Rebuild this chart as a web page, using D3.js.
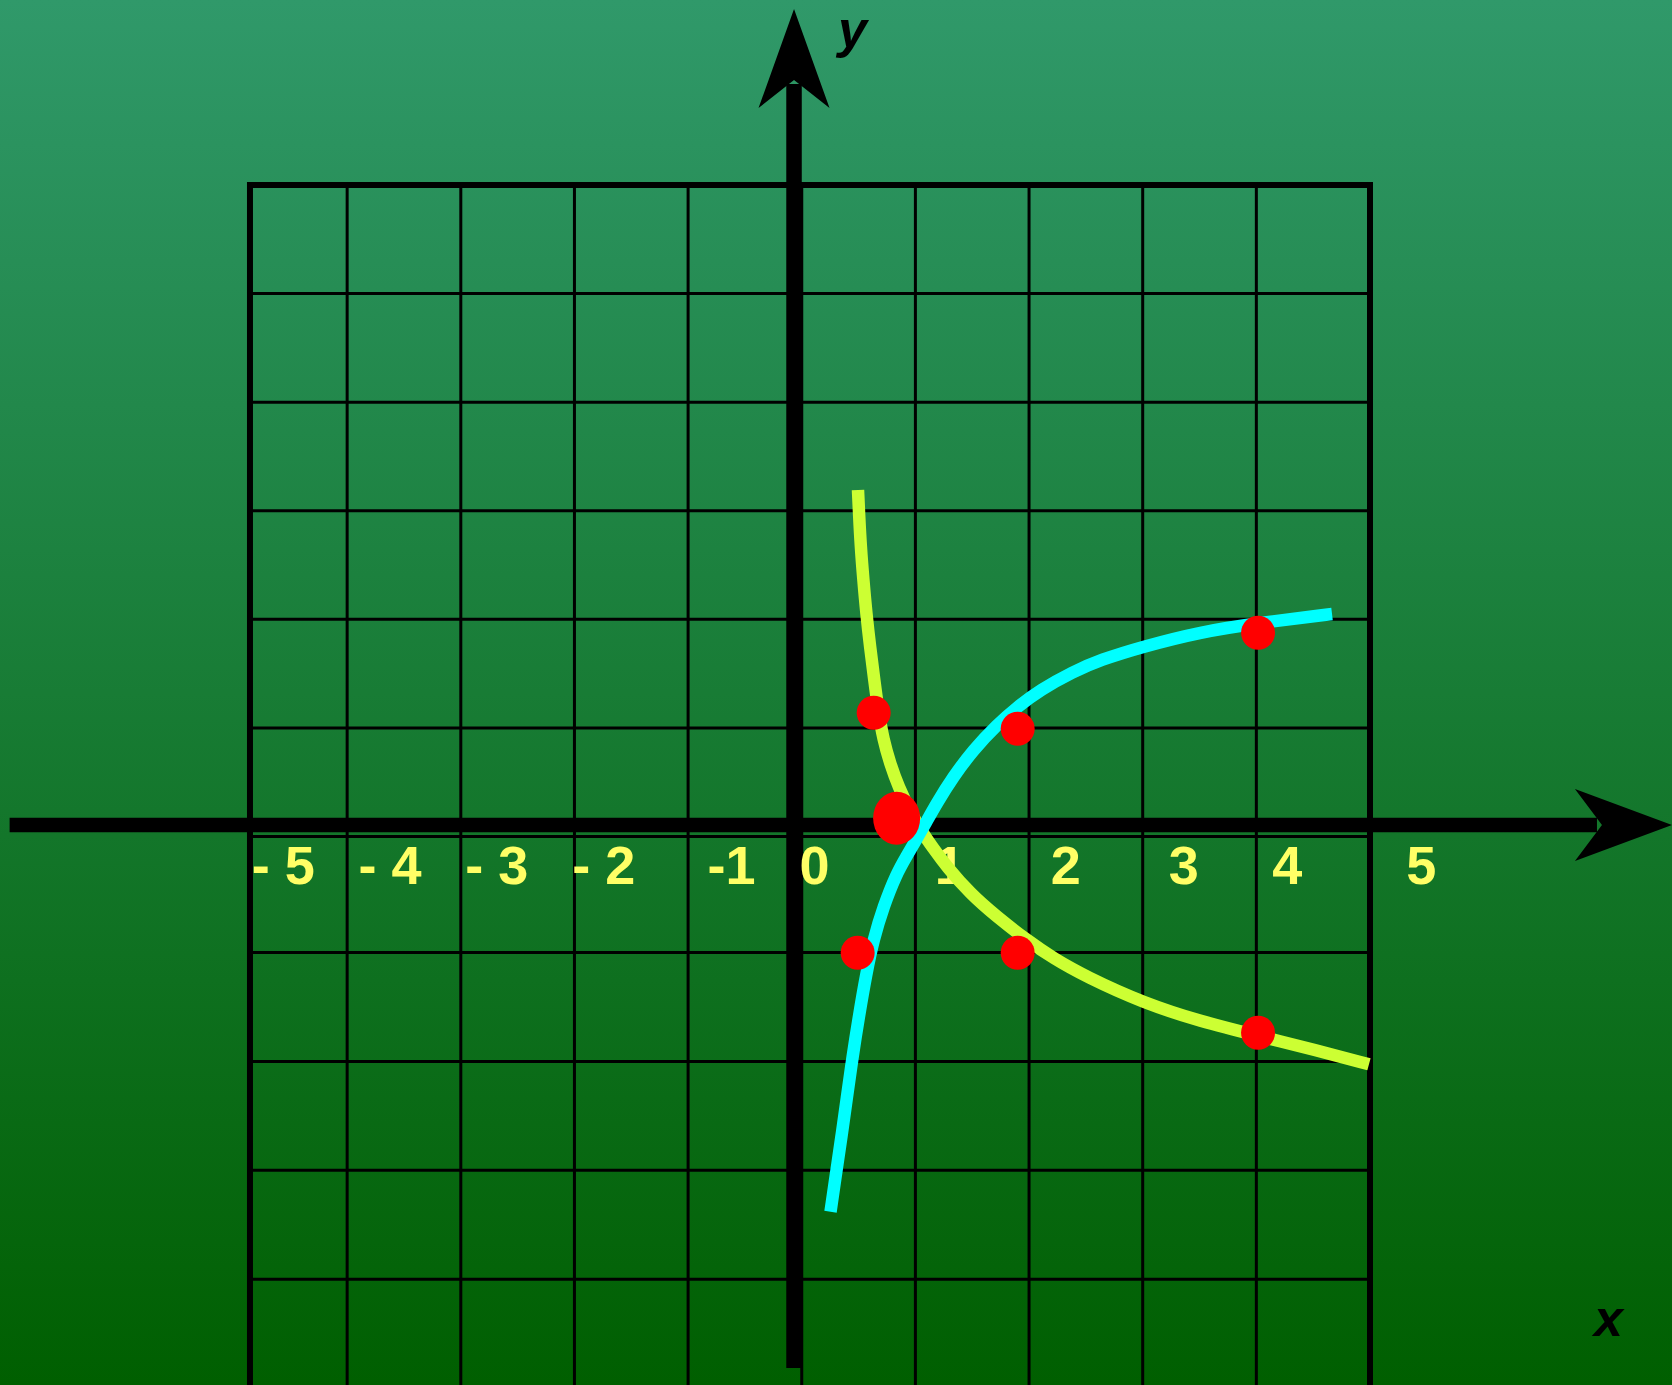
<!DOCTYPE html>
<html>
<head>
<meta charset="utf-8">
<script src="https://cdn.jsdelivr.net/npm/d3@7"></script>
<style>
    html, body { margin: 0; padding: 0; overflow: hidden; background: #1a7a30; }
    #chart { width: 1672px; height: 1385px; }
    #chart text { font-family: Arial, 'Liberation Sans', sans-serif; font-weight: bold; }
</style>
</head>
<body>
<div id="chart"></div>
<script>
//Colores fijos
const COLOR_BG_TOP = '#30996a',
COLOR_BG_BOTTOM = '#005f00',
COLOR_GRID = '#000',
COLOR_LABEL = '#ffff66',
COLOR_LOG2 = '#00ffff',
COLOR_LOG_HALF = '#ccff33',
COLOR_DOT = '#ff0000';

//Cuadrícula (unidades del gráfico)
const gridX = [-4, -3, -2, -1, 0, 1, 2, 3, 4];
const gridY = [-4, -3, -2, -1, 0, 1, 2, 3, 4, 5];
const frameLeft = -4.855, frameRight = 5, frameTop = 6, frameBottom = -5.2;

//Ejes (donde se cruzan y hasta donde llegan)
const axisAtX = -0.068, axisAtY = 0.106;
const xAxisFrom = -6.97, xAxisTo = 7.657;
const yAxisFrom = -4.816, yAxisTo = 7.62;

//Etiquetas del eje x
const tickLabels = ['- 5', '- 4', '- 3', '- 2', '-1', '0', '1', '2', '3', '4', '5'];
const tickLabelX = [-4.84, -3.90, -2.96, -2.02, -0.83, -0.02, 1.17, 2.19, 3.23, 4.14, 5.32];
const tickLabelY = -0.41;

//Curva y = log2(x), tal como está dibujada
const log2X = [0.253, 0.319, 0.354, 0.394, 0.447, 0.502, 0.568, 0.630, 0.718, 0.835, 0.920, 1.005, 1.081, 1.187, 1.333, 1.509, 1.715, 1.900, 2.096, 2.389, 2.624, 2.997, 3.513, 4.015, 4.666];
const log2Y = [-3.381, -2.906, -2.658, -2.355, -1.957, -1.590, -1.191, -0.892, -0.605, -0.317, -0.174, -0.030, 0.106, 0.306, 0.551, 0.797, 1.027, 1.195, 1.349, 1.518, 1.626, 1.748, 1.886, 1.966, 2.049];

//Curva y = log1/2(x)
const logHalfX = [0.495, 0.504, 0.519, 0.542, 0.568, 0.601, 0.638, 0.675, 0.718, 0.777, 0.850, 0.957, 1.058, 1.155, 1.275, 1.480, 1.715, 1.979, 2.213, 2.501, 3.008, 3.513, 4.001, 4.523, 4.991];
const logHalfY = [3.191, 2.977, 2.669, 2.362, 2.056, 1.748, 1.441, 1.147, 0.889, 0.674, 0.459, 0.226, 0.041, -0.099, -0.260, -0.490, -0.691, -0.892, -1.053, -1.222, -1.464, -1.634, -1.762, -1.896, -2.027];

//Puntos marcados
const dotX = [0.633, 1.900, 4.015, 0.492, 1.900, 4.015];
const dotY = [1.140, 0.993, 1.877, -1.002, -1.002, -1.737];
const commonDot = [0.835, 0.168];

const axisNameX = ['x', 6.97, -4.52];
const axisNameY = ['y', 0.32, 7.27];

initChart();

function initChart() {
    let width = 1672, height = 1385;

    let svg = d3.select('#chart')
        .append('svg')
            .attr('width', width)
            .attr('height', height);

    //Fondo degradado
    let grad = svg.append('defs').append('linearGradient')
        .attr('id', 'bg')
        .attr('x1', 0).attr('y1', 0).attr('x2', 0).attr('y2', 1);
    grad.append('stop').attr('offset', '0%').attr('stop-color', COLOR_BG_TOP);
    grad.append('stop').attr('offset', '100%').attr('stop-color', COLOR_BG_BOTTOM);

    svg.append('rect')
        .attr('width', width)
        .attr('height', height)
        .attr('fill', 'url(#bg)');

    //Escalas
    let x = d3.scaleLinear()
        .domain([-5, 5])
        .range([233.5, 1370]);

    let y = d3.scaleLinear()
        .domain([-5, -1, 0, 6])
        .range([1388, 952.5, 836.5, 185]);

    //Cuadrícula
    let grid = svg.append('g').attr('class', 'grid');

    grid.selectAll('.v-line')
        .data(gridX)
        .enter()
        .append('line')
        .attr('x1', function(d) { return x(d); })
        .attr('x2', function(d) { return x(d); })
        .attr('y1', y(frameTop))
        .attr('y2', y(frameBottom))
        .attr('stroke', COLOR_GRID)
        .attr('stroke-width', 3);

    grid.selectAll('.h-line')
        .data(gridY)
        .enter()
        .append('line')
        .attr('x1', x(frameLeft))
        .attr('x2', x(frameRight))
        .attr('y1', function(d) { return y(d); })
        .attr('y2', function(d) { return y(d); })
        .attr('stroke', COLOR_GRID)
        .attr('stroke-width', 3);

    //Marco
    grid.append('path')
        .attr('d', 'M' + x(frameLeft) + ',' + y(frameBottom) +
            'V' + y(frameTop) + 'H' + x(frameRight) + 'V' + y(frameBottom))
        .attr('fill', 'none')
        .attr('stroke', COLOR_GRID)
        .attr('stroke-width', 6);

    //Ejes con flecha
    let axes = svg.append('g').attr('class', 'axes');
    let x0 = x(axisAtX), y0 = y(axisAtY);
    let xTip = x(xAxisTo), yTip = y(yAxisTo);

    axes.append('line')
        .attr('x1', x(xAxisFrom)).attr('x2', xTip - 75)
        .attr('y1', y0).attr('y2', y0)
        .attr('stroke', '#000')
        .attr('stroke-width', 14.5);

    axes.append('path')
        .attr('d', 'M' + xTip + ',' + y0 + 'L' + (xTip - 97) + ',' + (y0 - 36) +
            'L' + (xTip - 70) + ',' + y0 + 'L' + (xTip - 97) + ',' + (y0 + 36) + 'Z')
        .attr('fill', '#000');

    axes.append('line')
        .attr('x1', x0).attr('x2', x0)
        .attr('y1', y(yAxisFrom)).attr('y2', yTip + 75)
        .attr('stroke', '#000')
        .attr('stroke-width', 15.5);

    axes.append('path')
        .attr('d', 'M' + x0 + ',' + yTip + 'L' + (x0 - 35.5) + ',' + (yTip + 99) +
            'L' + x0 + ',' + (yTip + 71) + 'L' + (x0 + 35.5) + ',' + (yTip + 99) + 'Z')
        .attr('fill', '#000');

    //Nombres de los ejes
    axes.selectAll('.axis-name')
        .data([axisNameX, axisNameY])
        .enter()
        .append('text')
        .attr('x', function(d) { return x(d[1]); })
        .attr('y', function(d) { return y(d[2]); })
        .attr('font-size', 52)
        .attr('font-style', 'italic')
        .attr('fill', '#000')
        .text(function(d) { return d[0]; });

    //Etiquetas del eje x
    svg.append('g')
        .selectAll('text')
        .data(tickLabels)
        .enter()
        .append('text')
        .attr('x', function(d, i) { return x(tickLabelX[i]); })
        .attr('y', y(tickLabelY))
        .attr('font-size', 54)
        .attr('fill', COLOR_LABEL)
        .style('white-space', 'pre')
        .attr('xml:space', 'preserve')
        .text(function(d) { return d; });

    //Curvas (suavizadas)
    let line = d3.line()
        .x(function(d) { return x(d[0]); })
        .y(function(d) { return y(d[1]); })
        .curve(d3.curveBasis);

    let curves = [
        {xs: logHalfX, ys: logHalfY, color: COLOR_LOG_HALF},
        {xs: log2X, ys: log2Y, color: COLOR_LOG2}
    ];

    svg.append('g')
        .selectAll('path')
        .data(curves)
        .enter()
        .append('path')
        .attr('d', function(c) { return line(c.xs.map(function(v, i) { return [v, c.ys[i]]; })); })
        .attr('fill', 'none')
        .attr('stroke', function(c) { return c.color; })
        .attr('stroke-width', 12.5)
        .attr('stroke-linecap', 'butt');

    //Puntos
    let dots = svg.append('g');

    dots.selectAll('circle')
        .data(dotX)
        .enter()
        .append('circle')
        .attr('cx', function(d) { return x(d); })
        .attr('cy', function(d, i) { return y(dotY[i]); })
        .attr('r', 17)
        .attr('fill', COLOR_DOT);

    dots.append('ellipse')
        .attr('cx', x(commonDot[0]))
        .attr('cy', y(commonDot[1]))
        .attr('rx', 23.5)
        .attr('ry', 26.5)
        .attr('fill', COLOR_DOT);
}
</script>
</body>
</html>
